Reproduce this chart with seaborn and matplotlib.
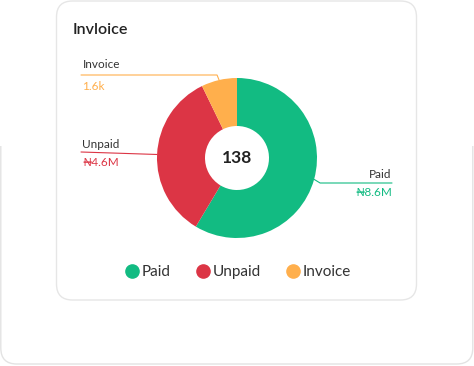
import numpy as np
import matplotlib
matplotlib.use("Agg")
import matplotlib.pyplot as plt
import seaborn as sns
from matplotlib.patches import FancyBboxPatch, Rectangle

# data
categories = ["Paid", "Unpaid", "Invoice"]
shares = [58.6, 34.2, 7.2]
value_labels = ["₦8.6M", "₦4.6M", "1.6k"]
total_count = 138
title = "Invloice"
colors = ["#12BB82", "#DC3545", "#FFAF4C"]

W, H = 474, 366


def py(y):
    # pixel row (from top) to data y
    return H - y


sns.set_theme(style="white")
plt.rcParams["font.family"] = ["Lato", "DejaVu Sans"]

fig = plt.figure(figsize=(W / 100, H / 100), dpi=100)
ax = fig.add_axes([0, 0, 1, 1])
ax.set_xlim(0, W)
ax.set_ylim(0, H)
ax.set_aspect("equal")
ax.axis("off")

# background cards
outer = FancyBboxPatch((0.8, py(364)), W - 2, 364 - 120,
                       boxstyle="round,pad=0,rounding_size=16",
                       fc="white", ec="#e3e3e3", lw=1.0, zorder=0)
ax.add_patch(outer)
ax.add_patch(Rectangle((-2, py(146)), W + 4, 60, fc="white", ec="none",
                       zorder=0.5))
inner = FancyBboxPatch((56.5, py(300)), 360, 299,
                       boxstyle="round,pad=0,rounding_size=16",
                       fc="white", ec="#e6e6e6", lw=1.0, zorder=1)
ax.add_patch(inner)

ax.text(73, py(30), title, fontsize=11.5, fontweight="semibold",
        color="#222222", va="center", ha="left", zorder=3)

cx, cy, r = 237, py(158), 80
wedges, _ = ax.pie(shares, colors=colors, startangle=90, counterclock=False,
                   center=(cx, cy), radius=r,
                   wedgeprops=dict(width=r - 32, edgecolor="none"))
for w in wedges:
    w.set_zorder(2)
ax.set_xlim(0, W)
ax.set_ylim(0, H)
ax.text(cx, cy, str(total_count), fontsize=12.5, fontweight="bold",
        color="#222222", ha="center", va="center", zorder=3)


def anchor(w):
    ang = np.deg2rad((w.theta1 + w.theta2) / 2)
    return cx + r * np.cos(ang), cy + r * np.sin(ang)


# Invoice label (upper left)
x0, y0 = anchor(wedges[2])
ax.plot([x0, x0 - 2, 81], [y0, py(75), py(75)], color=colors[2], lw=0.8,
        zorder=3)
ax.text(83, py(65), categories[2], fontsize=8.5, color="#333333",
        ha="left", va="center", zorder=3)
ax.text(82, py(86), value_labels[2], fontsize=8.5, color=colors[2],
        ha="left", va="center", zorder=3)

# Unpaid label (left)
x0, y0 = anchor(wedges[1])
ax.plot([x0, 81], [y0, py(152)], color=colors[1], lw=0.8, zorder=3)
ax.text(82, py(145), categories[1], fontsize=8.5, color="#333333",
        ha="left", va="center", zorder=3)
ax.text(82, py(163), value_labels[1], fontsize=8.5, color=colors[1],
        ha="left", va="center", zorder=3)

# Paid label (right)
x0, y0 = anchor(wedges[0])
ax.plot([x0, x0 + 6, 392], [y0, py(183), py(183)], color=colors[0], lw=0.8,
        zorder=3)
ax.text(391, py(174), categories[0], fontsize=8.5, color="#333333",
        ha="right", va="center", zorder=3)
ax.text(392, py(192), value_labels[0], fontsize=8.5, color=colors[0],
        ha="right", va="center", zorder=3)

# legend
handles = [plt.Line2D([], [], marker="o", ls="none", ms=9.5, mfc=c, mec=c)
           for c in colors]
leg = ax.legend(handles, categories, loc="center",
                bbox_to_anchor=(cx / W, (H - 272) / H), ncol=3, frameon=False,
                handletextpad=0.05, columnspacing=1.5, handlelength=1.2,
                fontsize=11, labelcolor="#333333")
leg.set_zorder(4)

fig.savefig("out.png", dpi=100, facecolor="white")
